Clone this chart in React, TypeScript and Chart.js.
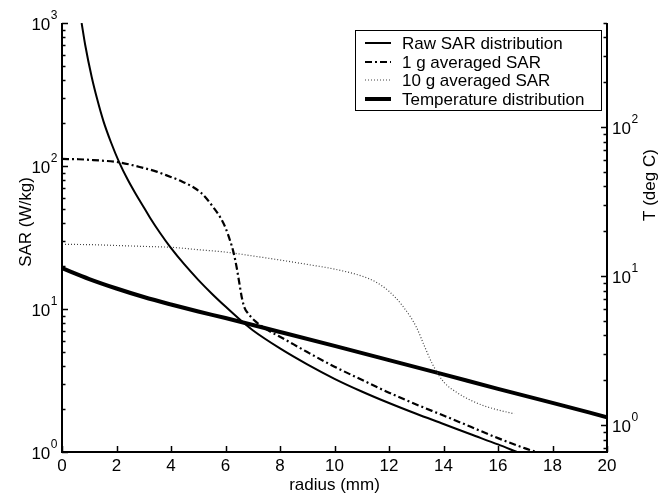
import React, { useEffect, useRef } from "react";
import { Chart, registerables } from "chart.js";

Chart.register(...registerables);

// ---- Data ----
const rawR = [0.72, 0.85, 1.09, 1.3, 1.52, 1.8, 2.1, 2.4, 2.68, 3.0, 3.23, 3.6, 3.96, 4.5, 5.0, 5.5, 6.0, 6.6, 7.0, 8.0, 9.0, 10.0, 11.0, 12.0, 13.0, 14.0, 15.0, 16.0, 16.7];
const rawSAR = [1000, 705, 419, 289, 206, 146, 106, 81, 65, 51.5, 43.5, 34, 27.3, 20.4, 16.0, 12.8, 10.4, 8.2, 7.1, 5.3, 4.1, 3.25, 2.65, 2.2, 1.85, 1.57, 1.33, 1.13, 1.0];

const g1R = [0, 0.6, 1.15, 2.1, 2.98, 3.5, 3.84, 4.4, 4.82, 5.1, 5.31, 5.55, 5.8, 6.0, 6.17, 6.28, 6.4, 6.5, 6.6, 6.7, 6.85, 7.1, 7.5, 8, 9, 10, 11, 12, 13, 14, 15, 16, 17, 17.4];
const g1SAR = [112, 111.5, 110, 106, 97, 91, 86, 78, 71, 65, 59, 51.5, 44, 37, 30, 25.5, 20, 15.5, 12, 10.2, 9.2, 8.2, 7.2, 6.4, 5.0, 3.95, 3.2, 2.6, 2.15, 1.8, 1.5, 1.25, 1.06, 1.0];

const g10R = [0, 1, 2, 3, 4, 5, 6, 7, 8, 9, 10, 11, 11.5, 12, 12.5, 13, 13.3, 13.6, 14, 14.5, 15, 15.5, 16, 16.6];
const g10SAR = [28.3, 28.2, 27.8, 27.4, 27, 26, 25, 23.5, 22, 20.5, 19, 17, 15.5, 13.3, 10.5, 7.5, 5.5, 4.1, 3.1, 2.6, 2.3, 2.1, 1.97, 1.85];

const tempR = [0, 1, 2, 3, 4, 5, 6, 8, 10, 12, 14, 16, 18, 20];
const tempT = [11.3, 9.56, 8.26, 7.24, 6.45, 5.79, 5.23, 4.22, 3.4, 2.73, 2.19, 1.75, 1.41, 1.13];

const xTicks = [0, 2, 4, 6, 8, 10, 12, 14, 16, 18, 20];
const leftExps = [0, 1, 2, 3];
const rightExps = [0, 1, 2];
const seriesNames = ["Raw SAR distribution", "1 g averaged SAR", "10 g averaged SAR", "Temperature distribution"];
const xTitle = "radius (mm)";
const yTitle = "SAR (W/kg)";
const y2Title = "T (deg C)";

const FONT = "'Liberation Sans', Arial, Helvetica, sans-serif";
const FS = 17;

const pts = (xs: number[], ys: number[]) => xs.map((x, i) => ({ x, y: ys[i] }));

const decorPlugin = {
  id: "decor",
  afterDraw(chart: any) {
    const ctx = chart.ctx as CanvasRenderingContext2D;
    const { left, right, top, bottom } = chart.chartArea;
    const xs = chart.scales.x;
    const ys = chart.scales.y;
    const y2 = chart.scales.y2;
    ctx.save();
    ctx.strokeStyle = "#000";
    ctx.fillStyle = "#000";
    ctx.setLineDash([]);
    ctx.lineWidth = 2;
    ctx.beginPath();
    ctx.moveTo(left, top);
    ctx.lineTo(left, bottom);
    ctx.lineTo(right, bottom);
    ctx.lineTo(right, top);
    ctx.stroke();

    ctx.lineWidth = 1.5;
    ctx.beginPath();
    for (const t of xTicks) {
      const px = Math.round(xs.getPixelForValue(t)) + 0.5;
      ctx.moveTo(px, bottom);
      ctx.lineTo(px, bottom - 6);
    }
    ctx.stroke();

    const logTicks = (scale: any, x0: number, dir: number) => {
      const lo = Math.floor(Math.log10(scale.min));
      const hi = Math.ceil(Math.log10(scale.max));
      ctx.beginPath();
      for (let e = lo; e <= hi; e++) {
        for (let m = 1; m <= 9; m++) {
          const v = m * Math.pow(10, e);
          if (v < scale.min * 0.999 || v > scale.max * 1.001) continue;
          const py = Math.round(scale.getPixelForValue(v)) + 0.5;
          const len = m === 1 ? 6 : 3.5;
          ctx.moveTo(x0, py);
          ctx.lineTo(x0 + dir * len, py);
        }
      }
      ctx.stroke();
    };
    ctx.lineWidth = 1.5;
    logTicks(ys, left, 1);
    logTicks(y2, right, -1);

    ctx.font = `${FS}px ${FONT}`;
    ctx.textAlign = "center";
    ctx.textBaseline = "middle";
    for (const t of xTicks) {
      ctx.fillText(String(t), xs.getPixelForValue(t), bottom + 14);
    }

    const drawPow = (e: number, py: number, xRight: number | null, xLeft: number | null) => {
      ctx.font = `${FS}px ${FONT}`;
      const wBase = ctx.measureText("10").width;
      ctx.font = `12px ${FONT}`;
      const wExp = ctx.measureText(String(e)).width;
      const x0 = xLeft !== null ? xLeft : (xRight as number) - wBase - wExp;
      ctx.textAlign = "left";
      ctx.textBaseline = "middle";
      ctx.font = `${FS}px ${FONT}`;
      ctx.fillText("10", x0, py + 2);
      ctx.font = `12px ${FONT}`;
      ctx.fillText(String(e), x0 + wBase + 0.5, py - 7);
    };
    for (const e of leftExps) {
      drawPow(e, ys.getPixelForValue(Math.pow(10, e)), left - 5, null);
    }
    for (const e of rightExps) {
      drawPow(e, y2.getPixelForValue(Math.pow(10, e)), null, right + 5);
    }

    ctx.font = `${FS}px ${FONT}`;
    ctx.textAlign = "center";
    ctx.textBaseline = "middle";
    ctx.fillText(xTitle, (left + right) / 2, bottom + 33);
    ctx.save();
    ctx.translate(26, 222);
    ctx.rotate(-Math.PI / 2);
    ctx.fillText(yTitle, 0, 0);
    ctx.restore();
    ctx.save();
    ctx.translate(650, 185);
    ctx.rotate(-Math.PI / 2);
    ctx.fillText(y2Title, 0, 0);
    ctx.restore();

    // legend
    const lx = 355, ly = 30, lw = 246, lh = 80;
    ctx.fillStyle = "#fff";
    ctx.fillRect(lx, ly, lw, lh);
    ctx.strokeStyle = "#000";
    ctx.lineWidth = 1;
    ctx.strokeRect(lx + 0.5, ly + 0.5, lw, lh);
    const rows = [43, 62, 80, 99];
    chart.data.datasets.forEach((ds: any, i: number) => {
      const yy = rows[i];
      ctx.save();
      ctx.strokeStyle = ds.borderColor;
      ctx.lineWidth = ds.borderWidth;
      ctx.setLineDash(ds.borderDash || []);
      ctx.beginPath();
      ctx.moveTo(365, yy);
      ctx.lineTo(391, yy);
      ctx.stroke();
      ctx.restore();
      ctx.fillStyle = "#000";
      ctx.font = `${FS}px ${FONT}`;
      ctx.textAlign = "left";
      ctx.textBaseline = "middle";
      ctx.fillText(seriesNames[i], 402, yy + 1);
    });
    ctx.restore();
  },
};

export default function App() {
  const ref = useRef<HTMLCanvasElement | null>(null);
  useEffect(() => {
    if (!ref.current) return;
    const chart = new Chart(ref.current, {
      type: "line",
      data: {
        datasets: [
          { label: seriesNames[0], data: pts(rawR, rawSAR), borderColor: "#000", borderWidth: 2, yAxisID: "y" },
          { label: seriesNames[1], data: pts(g1R, g1SAR), borderColor: "#000", borderWidth: 2.2, borderDash: [7, 3, 2, 3], yAxisID: "y" },
          { label: seriesNames[2], data: pts(g10R, g10SAR), borderColor: "#444", borderWidth: 1.2, borderDash: [1, 2], yAxisID: "y" },
          { label: seriesNames[3], data: pts(tempR, tempT), borderColor: "#000", borderWidth: 4, yAxisID: "y2" },
        ] as any,
      },
      options: {
        animation: false,
        responsive: false,
        devicePixelRatio: 1,
        layout: { padding: { left: 62, right: 61, top: 23, bottom: 43 } },
        elements: {
          point: { radius: 0 },
          line: { cubicInterpolationMode: "monotone", fill: false },
        },
        plugins: { legend: { display: false }, tooltip: { enabled: false } },
        scales: {
          x: { type: "linear", min: 0, max: 20, display: false },
          y: { type: "logarithmic", min: 1, max: 1000, display: false },
          y2: { type: "logarithmic", min: 0.66, max: 500, display: false, position: "right" },
        },
      } as any,
      plugins: [decorPlugin],
    });
    return () => chart.destroy();
  }, []);
  return (
    <div style={{ position: "absolute", left: 0, top: 0, width: 668, height: 495, background: "#fff" }}>
      <canvas ref={ref} width={668} height={495} style={{ width: 668, height: 495, display: "block" }} />
    </div>
  );
}
